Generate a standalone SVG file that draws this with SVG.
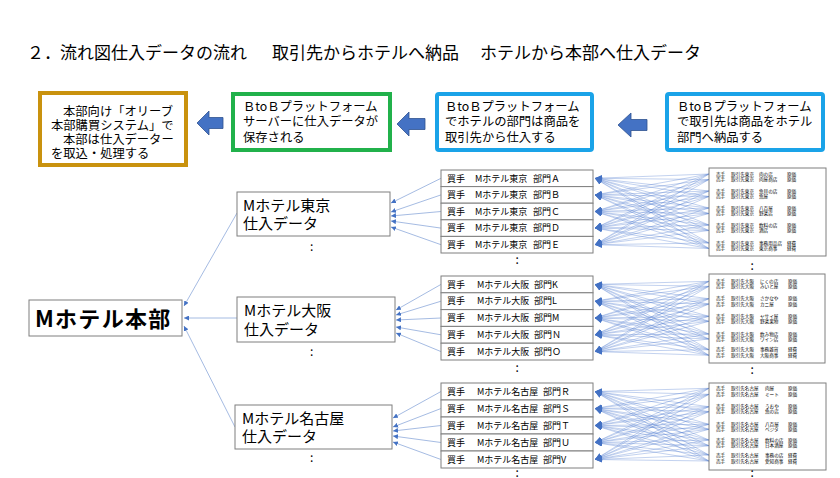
<svg xmlns="http://www.w3.org/2000/svg" width="840" height="478" viewBox="0 0 840 478">
<defs>
<style>
text{font-family:"Noto Sans CJK JP","Liberation Sans",sans-serif;fill:#000}
.title{font-size:17px}
.top{font-size:12.3px}
.bx{fill:#fff;stroke:#7f7f7f;stroke-width:1}
.mid{font-size:15px}
.dp{font-size:9px}
.sp{font-size:4.6px}
.col{font-size:12px}
.barrow{fill:#4472C4;stroke:#2F528F;stroke-width:0.8}
.sl{stroke:#4a78cf;stroke-width:0.45;stroke-opacity:0.75;fill:none;marker-end:url(#ah)}
.ml{stroke:#8eaadb;stroke-width:0.8;fill:none;marker-end:url(#sah)}
</style>
<marker id="ah" markerUnits="userSpaceOnUse" markerWidth="7" markerHeight="6" refX="7" refY="3" orient="auto"><path d="M0,0L7,3L0,6z" fill="#4472C4"/></marker>
<marker id="sah" markerUnits="userSpaceOnUse" markerWidth="5" markerHeight="5" refX="5" refY="2.5" orient="auto"><path d="M0,0L5,2.5L0,5z" fill="#4472C4"/></marker>
</defs>
<rect width="840" height="478" fill="#fff"/>
<text class="title" y="59"><tspan x="27">２．</tspan><tspan x="60">流れ図仕入データの流れ</tspan><tspan x="251">　</tspan><tspan x="272">取引先からホテルへ納品</tspan><tspan x="461">　</tspan><tspan x="480">ホテルから本部へ仕入データ</tspan></text>

<g id="box-honbu-system">
<rect x="40" y="93" width="146" height="72" fill="#fff" stroke="#C9920E" stroke-width="4"/>
<text class="top" x="63" y="115.5">本部向け「オリーブ</text>
<text class="top" x="51" y="129.5">本部購買システム」で</text>
<text class="top" x="63" y="143.5">本部は仕入データー</text>
<text class="top" x="51" y="158">を取込・処理する</text>
</g>
<g id="box-server">
<rect x="233" y="94" width="157" height="56" fill="#fff" stroke="#21B14B" stroke-width="4"/>
<text class="top" x="243" y="110.5">ＢtoＢプラットフォーム</text>
<text class="top" x="243" y="125.5">サーバーに仕入データが</text>
<text class="top" x="243" y="141.5">保存される</text>
</g>
<g id="box-hotel-dept">
<rect x="437" y="94" width="155" height="56" rx="2" fill="#fff" stroke="#1AA3E8" stroke-width="4"/>
<text class="top" x="445" y="110.5">ＢtoＢプラットフォーム</text>
<text class="top" x="445" y="125.5">でホテルの部門は商品を</text>
<text class="top" x="445" y="141.5">取引先から仕入する</text>
</g>
<g id="box-supplier">
<rect x="667" y="94" width="156" height="56" rx="2" fill="#fff" stroke="#1AA3E8" stroke-width="4"/>
<text class="top" x="677" y="110.5">ＢtoＢプラットフォーム</text>
<text class="top" x="677" y="125.5">で取引先は商品をホテル</text>
<text class="top" x="677" y="141.5">部門へ納品する</text>
</g>
<g id="block-arrows">
<polygon class="barrow" points="197,123 209,111 209,117.5 223,117.5 223,128.5 209,128.5 209,135"/>
<polygon class="barrow" points="397,124 409,112 409,118.5 425,118.5 425,129.5 409,129.5 409,136"/>
<polygon class="barrow" points="618,125 631,113 631,119.5 647,119.5 647,130.5 631,130.5 631,137"/>
</g>

<g id="connectors">
<path class="ml" d="M237 213L184 306"/>
<path class="ml" d="M237 318L184 318"/>
<path class="ml" d="M235 427L184 326"/>
<path class="ml" d="M441 178.3L391 203"/>
<path class="ml" d="M441 194.9L391 212"/>
<path class="ml" d="M441 211.5L391 216"/>
<path class="ml" d="M441 228.1L391 221"/>
<path class="ml" d="M441 244.7L391 227"/>
<path class="ml" d="M441 284.4L396 310"/>
<path class="ml" d="M441 301.2L396 315"/>
<path class="ml" d="M441 318L396 320"/>
<path class="ml" d="M441 334.8L396 327"/>
<path class="ml" d="M441 351.6L396 333"/>
<path class="ml" d="M441 391.5L393 418"/>
<path class="ml" d="M441 408.5L393 427"/>
<path class="ml" d="M441 425.5L393 431"/>
<path class="ml" d="M441 442.5L393 436"/>
<path class="ml" d="M441 459.5L393 442"/>
<g id="tokyo-lines">
<path class="sl" d="M709 174L595 178.3"/><path class="sl" d="M709 174L595 194.9"/><path class="sl" d="M709 174L595 211.5"/><path class="sl" d="M709 174L595 228.1"/><path class="sl" d="M709 174L595 244.7"/>
<path class="sl" d="M709 179.5L595 178.3"/><path class="sl" d="M709 179.5L595 194.9"/><path class="sl" d="M709 179.5L595 211.5"/><path class="sl" d="M709 179.5L595 228.1"/><path class="sl" d="M709 179.5L595 244.7"/>
<path class="sl" d="M709 191L595 178.3"/><path class="sl" d="M709 191L595 194.9"/><path class="sl" d="M709 191L595 211.5"/><path class="sl" d="M709 191L595 228.1"/><path class="sl" d="M709 191L595 244.7"/>
<path class="sl" d="M709 196.5L595 178.3"/><path class="sl" d="M709 196.5L595 194.9"/><path class="sl" d="M709 196.5L595 211.5"/><path class="sl" d="M709 196.5L595 228.1"/><path class="sl" d="M709 196.5L595 244.7"/>
<path class="sl" d="M709 208L595 178.3"/><path class="sl" d="M709 208L595 194.9"/><path class="sl" d="M709 208L595 211.5"/><path class="sl" d="M709 208L595 228.1"/><path class="sl" d="M709 208L595 244.7"/>
<path class="sl" d="M709 213.5L595 178.3"/><path class="sl" d="M709 213.5L595 194.9"/><path class="sl" d="M709 213.5L595 211.5"/><path class="sl" d="M709 213.5L595 228.1"/><path class="sl" d="M709 213.5L595 244.7"/>
<path class="sl" d="M709 225L595 178.3"/><path class="sl" d="M709 225L595 194.9"/><path class="sl" d="M709 225L595 211.5"/><path class="sl" d="M709 225L595 228.1"/><path class="sl" d="M709 225L595 244.7"/>
<path class="sl" d="M709 230.5L595 178.3"/><path class="sl" d="M709 230.5L595 194.9"/><path class="sl" d="M709 230.5L595 211.5"/><path class="sl" d="M709 230.5L595 228.1"/><path class="sl" d="M709 230.5L595 244.7"/>
<path class="sl" d="M709 243L595 178.3"/><path class="sl" d="M709 243L595 194.9"/><path class="sl" d="M709 243L595 211.5"/><path class="sl" d="M709 243L595 228.1"/><path class="sl" d="M709 243L595 244.7"/>
<path class="sl" d="M709 248.5L595 178.3"/><path class="sl" d="M709 248.5L595 194.9"/><path class="sl" d="M709 248.5L595 211.5"/><path class="sl" d="M709 248.5L595 228.1"/><path class="sl" d="M709 248.5L595 244.7"/>
</g>
<g id="osaka-lines">
<path class="sl" d="M709 281.3L595 284.4"/><path class="sl" d="M709 281.3L595 301.2"/><path class="sl" d="M709 281.3L595 318"/><path class="sl" d="M709 281.3L595 334.8"/><path class="sl" d="M709 281.3L595 351.6"/>
<path class="sl" d="M709 286.3L595 284.4"/><path class="sl" d="M709 286.3L595 301.2"/><path class="sl" d="M709 286.3L595 318"/><path class="sl" d="M709 286.3L595 334.8"/><path class="sl" d="M709 286.3L595 351.6"/>
<path class="sl" d="M709 298.7L595 284.4"/><path class="sl" d="M709 298.7L595 301.2"/><path class="sl" d="M709 298.7L595 318"/><path class="sl" d="M709 298.7L595 334.8"/><path class="sl" d="M709 298.7L595 351.6"/>
<path class="sl" d="M709 304L595 284.4"/><path class="sl" d="M709 304L595 301.2"/><path class="sl" d="M709 304L595 318"/><path class="sl" d="M709 304L595 334.8"/><path class="sl" d="M709 304L595 351.6"/>
<path class="sl" d="M709 316.3L595 284.4"/><path class="sl" d="M709 316.3L595 301.2"/><path class="sl" d="M709 316.3L595 318"/><path class="sl" d="M709 316.3L595 334.8"/><path class="sl" d="M709 316.3L595 351.6"/>
<path class="sl" d="M709 321.3L595 284.4"/><path class="sl" d="M709 321.3L595 301.2"/><path class="sl" d="M709 321.3L595 318"/><path class="sl" d="M709 321.3L595 334.8"/><path class="sl" d="M709 321.3L595 351.6"/>
<path class="sl" d="M709 334L595 284.4"/><path class="sl" d="M709 334L595 301.2"/><path class="sl" d="M709 334L595 318"/><path class="sl" d="M709 334L595 334.8"/><path class="sl" d="M709 334L595 351.6"/>
<path class="sl" d="M709 339L595 284.4"/><path class="sl" d="M709 339L595 301.2"/><path class="sl" d="M709 339L595 318"/><path class="sl" d="M709 339L595 334.8"/><path class="sl" d="M709 339L595 351.6"/>
<path class="sl" d="M709 349.7L595 284.4"/><path class="sl" d="M709 349.7L595 301.2"/><path class="sl" d="M709 349.7L595 318"/><path class="sl" d="M709 349.7L595 334.8"/><path class="sl" d="M709 349.7L595 351.6"/>
<path class="sl" d="M709 355.3L595 284.4"/><path class="sl" d="M709 355.3L595 301.2"/><path class="sl" d="M709 355.3L595 318"/><path class="sl" d="M709 355.3L595 334.8"/><path class="sl" d="M709 355.3L595 351.6"/>
</g>
<g id="nagoya-lines">
<path class="sl" d="M709 388.3L595 391.5"/><path class="sl" d="M709 388.3L595 408.5"/><path class="sl" d="M709 388.3L595 425.5"/><path class="sl" d="M709 388.3L595 442.5"/><path class="sl" d="M709 388.3L595 459.5"/>
<path class="sl" d="M709 394.3L595 391.5"/><path class="sl" d="M709 394.3L595 408.5"/><path class="sl" d="M709 394.3L595 425.5"/><path class="sl" d="M709 394.3L595 442.5"/><path class="sl" d="M709 394.3L595 459.5"/>
<path class="sl" d="M709 406.7L595 391.5"/><path class="sl" d="M709 406.7L595 408.5"/><path class="sl" d="M709 406.7L595 425.5"/><path class="sl" d="M709 406.7L595 442.5"/><path class="sl" d="M709 406.7L595 459.5"/>
<path class="sl" d="M709 411.7L595 391.5"/><path class="sl" d="M709 411.7L595 408.5"/><path class="sl" d="M709 411.7L595 425.5"/><path class="sl" d="M709 411.7L595 442.5"/><path class="sl" d="M709 411.7L595 459.5"/>
<path class="sl" d="M709 424.3L595 391.5"/><path class="sl" d="M709 424.3L595 408.5"/><path class="sl" d="M709 424.3L595 425.5"/><path class="sl" d="M709 424.3L595 442.5"/><path class="sl" d="M709 424.3L595 459.5"/>
<path class="sl" d="M709 429.3L595 391.5"/><path class="sl" d="M709 429.3L595 408.5"/><path class="sl" d="M709 429.3L595 425.5"/><path class="sl" d="M709 429.3L595 442.5"/><path class="sl" d="M709 429.3L595 459.5"/>
<path class="sl" d="M709 440L595 391.5"/><path class="sl" d="M709 440L595 408.5"/><path class="sl" d="M709 440L595 425.5"/><path class="sl" d="M709 440L595 442.5"/><path class="sl" d="M709 440L595 459.5"/>
<path class="sl" d="M709 445.7L595 391.5"/><path class="sl" d="M709 445.7L595 408.5"/><path class="sl" d="M709 445.7L595 425.5"/><path class="sl" d="M709 445.7L595 442.5"/><path class="sl" d="M709 445.7L595 459.5"/>
<path class="sl" d="M709 455L595 391.5"/><path class="sl" d="M709 455L595 408.5"/><path class="sl" d="M709 455L595 425.5"/><path class="sl" d="M709 455L595 442.5"/><path class="sl" d="M709 455L595 459.5"/>
<path class="sl" d="M709 461L595 391.5"/><path class="sl" d="M709 461L595 408.5"/><path class="sl" d="M709 461L595 425.5"/><path class="sl" d="M709 461L595 442.5"/><path class="sl" d="M709 461L595 459.5"/>
</g>
</g>

<g id="node-honbu">
<rect class="bx" x="29" y="300" width="153" height="36"/>
<text x="35" y="327" font-size="22" font-weight="bold" letter-spacing="1.3">Mホテル本部</text>
</g>

<g id="node-tokyo">
<rect class="bx" x="237" y="192" width="153" height="44"/>
<text class="mid" x="243" y="210.5">Mホテル東京</text>
<text class="mid" x="243" y="228.5">仕入データ</text>
<text class="col" x="310" y="251">:</text>
</g>
<g id="node-osaka">
<rect class="bx" x="237" y="297" width="158" height="45"/>
<text class="mid" x="244" y="316">Mホテル大阪</text>
<text class="mid" x="244" y="334.5">仕入データ</text>
<text class="col" x="310" y="355.5">:</text>
</g>
<g id="node-nagoya">
<rect class="bx" x="235" y="405" width="157" height="44"/>
<text class="mid" x="242" y="424">Mホテル名古屋</text>
<text class="mid" x="242" y="442">仕入データ</text>
<text class="col" x="310" y="461.5">:</text>
</g>

<g id="dept-tokyo">
<rect class="bx" x="441" y="170" width="152" height="16.6"/>
<rect class="bx" x="441" y="186.6" width="152" height="16.6"/>
<rect class="bx" x="441" y="203.2" width="152" height="16.6"/>
<rect class="bx" x="441" y="219.8" width="152" height="16.6"/>
<rect class="bx" x="441" y="236.4" width="152" height="16.6"/>
<text class="dp" y="181.5"><tspan x="447">買手</tspan><tspan x="475">Mホテル東京</tspan><tspan x="533">部門Ａ</tspan></text>
<text class="dp" y="198.1"><tspan x="447">買手</tspan><tspan x="475">Mホテル東京</tspan><tspan x="533">部門Ｂ</tspan></text>
<text class="dp" y="214.7"><tspan x="447">買手</tspan><tspan x="475">Mホテル東京</tspan><tspan x="533">部門Ｃ</tspan></text>
<text class="dp" y="231.3"><tspan x="447">買手</tspan><tspan x="475">Mホテル東京</tspan><tspan x="533">部門Ｄ</tspan></text>
<text class="dp" y="247.9"><tspan x="447">買手</tspan><tspan x="475">Mホテル東京</tspan><tspan x="533">部門Ｅ</tspan></text>
<text class="col" x="515.5" y="263.5">:</text>
</g>
<g id="dept-osaka">
<rect class="bx" x="441" y="276" width="152" height="16.8"/>
<rect class="bx" x="441" y="292.8" width="152" height="16.8"/>
<rect class="bx" x="441" y="309.6" width="152" height="16.8"/>
<rect class="bx" x="441" y="326.4" width="152" height="16.8"/>
<rect class="bx" x="441" y="343.2" width="152" height="16.8"/>
<text class="dp" y="287.6"><tspan x="447">買手</tspan><tspan x="477">Mホテル大阪</tspan><tspan x="534">部門K</tspan></text>
<text class="dp" y="304.4"><tspan x="447">買手</tspan><tspan x="477">Mホテル大阪</tspan><tspan x="534">部門L</tspan></text>
<text class="dp" y="321.2"><tspan x="447">買手</tspan><tspan x="477">Mホテル大阪</tspan><tspan x="534">部門M</tspan></text>
<text class="dp" y="338"><tspan x="447">買手</tspan><tspan x="477">Mホテル大阪</tspan><tspan x="534">部門Ｎ</tspan></text>
<text class="dp" y="354.8"><tspan x="447">買手</tspan><tspan x="477">Mホテル大阪</tspan><tspan x="534">部門Ｏ</tspan></text>
<text class="col" x="515.5" y="371.5">:</text>
</g>
<g id="dept-nagoya">
<rect class="bx" x="441" y="383" width="152" height="17"/>
<rect class="bx" x="441" y="400" width="152" height="17"/>
<rect class="bx" x="441" y="417" width="152" height="17"/>
<rect class="bx" x="441" y="434" width="152" height="17"/>
<rect class="bx" x="441" y="451" width="152" height="17"/>
<text class="dp" y="394.7"><tspan x="447">買手</tspan><tspan x="477">Mホテル名古屋</tspan><tspan x="543">部門Ｒ</tspan></text>
<text class="dp" y="411.7"><tspan x="447">買手</tspan><tspan x="477">Mホテル名古屋</tspan><tspan x="543">部門Ｓ</tspan></text>
<text class="dp" y="428.7"><tspan x="447">買手</tspan><tspan x="477">Mホテル名古屋</tspan><tspan x="543">部門Ｔ</tspan></text>
<text class="dp" y="445.7"><tspan x="447">買手</tspan><tspan x="477">Mホテル名古屋</tspan><tspan x="543">部門Ｕ</tspan></text>
<text class="dp" y="462.7"><tspan x="447">買手</tspan><tspan x="477">Mホテル名古屋</tspan><tspan x="543">部門V</tspan></text>
<text class="col" x="515.5" y="477">:</text>
</g>

<g id="supplier-tokyo">
<rect class="bx" x="709" y="168" width="117" height="88"/>
<text class="sp" y="175.6"><tspan x="716">売手</tspan><tspan x="731">取引先東京</tspan><tspan x="759">肉の店</tspan><tspan x="787">原価</tspan></text>
<text class="sp" y="181.1"><tspan x="716">売手</tspan><tspan x="731">取引先東京</tspan><tspan x="759">肉屋商店</tspan><tspan x="787">原価</tspan></text>
<text class="sp" y="192.6"><tspan x="716">売手</tspan><tspan x="731">取引先東京</tspan><tspan x="759">魚貝の店</tspan><tspan x="787">原価</tspan></text>
<text class="sp" y="198.1"><tspan x="716">売手</tspan><tspan x="731">取引先東京</tspan><tspan x="759">魚屋</tspan><tspan x="787">原価</tspan></text>
<text class="sp" y="209.6"><tspan x="716">売手</tspan><tspan x="731">取引先東京</tspan><tspan x="759">八百屋</tspan><tspan x="787">原価</tspan></text>
<text class="sp" y="215.1"><tspan x="716">売手</tspan><tspan x="731">取引先東京</tspan><tspan x="759">野菜店</tspan><tspan x="787">原価</tspan></text>
<text class="sp" y="226.6"><tspan x="716">売手</tspan><tspan x="731">取引先東京</tspan><tspan x="759">飲料の店</tspan><tspan x="787">原価</tspan></text>
<text class="sp" y="232.1"><tspan x="716">売手</tspan><tspan x="731">取引先東京</tspan><tspan x="759">酒店</tspan><tspan x="787">原価</tspan></text>
<text class="sp" y="244.6"><tspan x="716">売手</tspan><tspan x="731">取引先東京</tspan><tspan x="759">事務用品店</tspan><tspan x="787">経費</tspan></text>
<text class="sp" y="250.1"><tspan x="716">売手</tspan><tspan x="731">取引先東京</tspan><tspan x="759">東京商事</tspan><tspan x="787">経費</tspan></text>
<text class="col" x="750.5" y="269.5">:</text>
</g>
<g id="supplier-osaka">
<rect class="bx" x="709" y="274" width="116" height="89"/>
<text class="sp" y="282.9"><tspan x="716">売手</tspan><tspan x="731">取引先大阪</tspan><tspan x="760">にくの店</tspan><tspan x="788">原価</tspan></text>
<text class="sp" y="287.9"><tspan x="716">売手</tspan><tspan x="731">取引先大阪</tspan><tspan x="760">みいと屋</tspan><tspan x="788">原価</tspan></text>
<text class="sp" y="300.3"><tspan x="716">売手</tspan><tspan x="731">取引先大阪</tspan><tspan x="760">さかなや</tspan><tspan x="788">原価</tspan></text>
<text class="sp" y="305.6"><tspan x="716">売手</tspan><tspan x="731">取引先大阪</tspan><tspan x="760">カニ屋</tspan><tspan x="788">原価</tspan></text>
<text class="sp" y="317.9"><tspan x="716">売手</tspan><tspan x="731">取引先大阪</tspan><tspan x="760">ヤサイ屋</tspan><tspan x="788">原価</tspan></text>
<text class="sp" y="322.9"><tspan x="716">売手</tspan><tspan x="731">取引先大阪</tspan><tspan x="760">野菜果物</tspan><tspan x="788">原価</tspan></text>
<text class="sp" y="335.6"><tspan x="716">売手</tspan><tspan x="731">取引先大阪</tspan><tspan x="760">飲み物店</tspan><tspan x="788">原価</tspan></text>
<text class="sp" y="340.6"><tspan x="716">売手</tspan><tspan x="731">取引先大阪</tspan><tspan x="760">ワイン店</tspan><tspan x="788">原価</tspan></text>
<text class="sp" y="351.3"><tspan x="716">売手</tspan><tspan x="731">取引先大阪</tspan><tspan x="760">事務雑貨</tspan><tspan x="788">経費</tspan></text>
<text class="sp" y="356.9"><tspan x="716">売手</tspan><tspan x="731">取引先大阪</tspan><tspan x="760">大阪商事</tspan><tspan x="788">経費</tspan></text>
<text class="col" x="750.5" y="374">:</text>
</g>
<g id="supplier-nagoya">
<rect class="bx" x="709" y="383" width="117" height="87"/>
<text class="sp" y="389.9"><tspan x="716">売手</tspan><tspan x="731">取引先名古屋</tspan><tspan x="765">肉屋</tspan><tspan x="788">原価</tspan></text>
<text class="sp" y="395.9"><tspan x="716">売手</tspan><tspan x="731">取引先名古屋</tspan><tspan x="765">ミート</tspan><tspan x="788">原価</tspan></text>
<text class="sp" y="408.3"><tspan x="716">売手</tspan><tspan x="731">取引先名古屋</tspan><tspan x="765">うおや</tspan><tspan x="788">原価</tspan></text>
<text class="sp" y="413.3"><tspan x="716">売手</tspan><tspan x="731">取引先名古屋</tspan><tspan x="765">魚の店</tspan><tspan x="788">原価</tspan></text>
<text class="sp" y="425.9"><tspan x="716">売手</tspan><tspan x="731">取引先名古屋</tspan><tspan x="765">八百屋</tspan><tspan x="788">原価</tspan></text>
<text class="sp" y="430.9"><tspan x="716">売手</tspan><tspan x="731">取引先名古屋</tspan><tspan x="765">ベジタ</tspan><tspan x="788">原価</tspan></text>
<text class="sp" y="441.6"><tspan x="716">売手</tspan><tspan x="731">取引先名古屋</tspan><tspan x="765">飲料の店</tspan><tspan x="788">原価</tspan></text>
<text class="sp" y="447.3"><tspan x="716">売手</tspan><tspan x="731">取引先名古屋</tspan><tspan x="765">日本酒屋</tspan><tspan x="788">原価</tspan></text>
<text class="sp" y="456.6"><tspan x="716">売手</tspan><tspan x="731">取引先名古屋</tspan><tspan x="765">事務の店</tspan><tspan x="788">経費</tspan></text>
<text class="sp" y="462.6"><tspan x="716">売手</tspan><tspan x="731">取引先名古屋</tspan><tspan x="765">愛知商事</tspan><tspan x="788">経費</tspan></text>
<text class="col" x="750.5" y="477">:</text>
</g>
</svg>
